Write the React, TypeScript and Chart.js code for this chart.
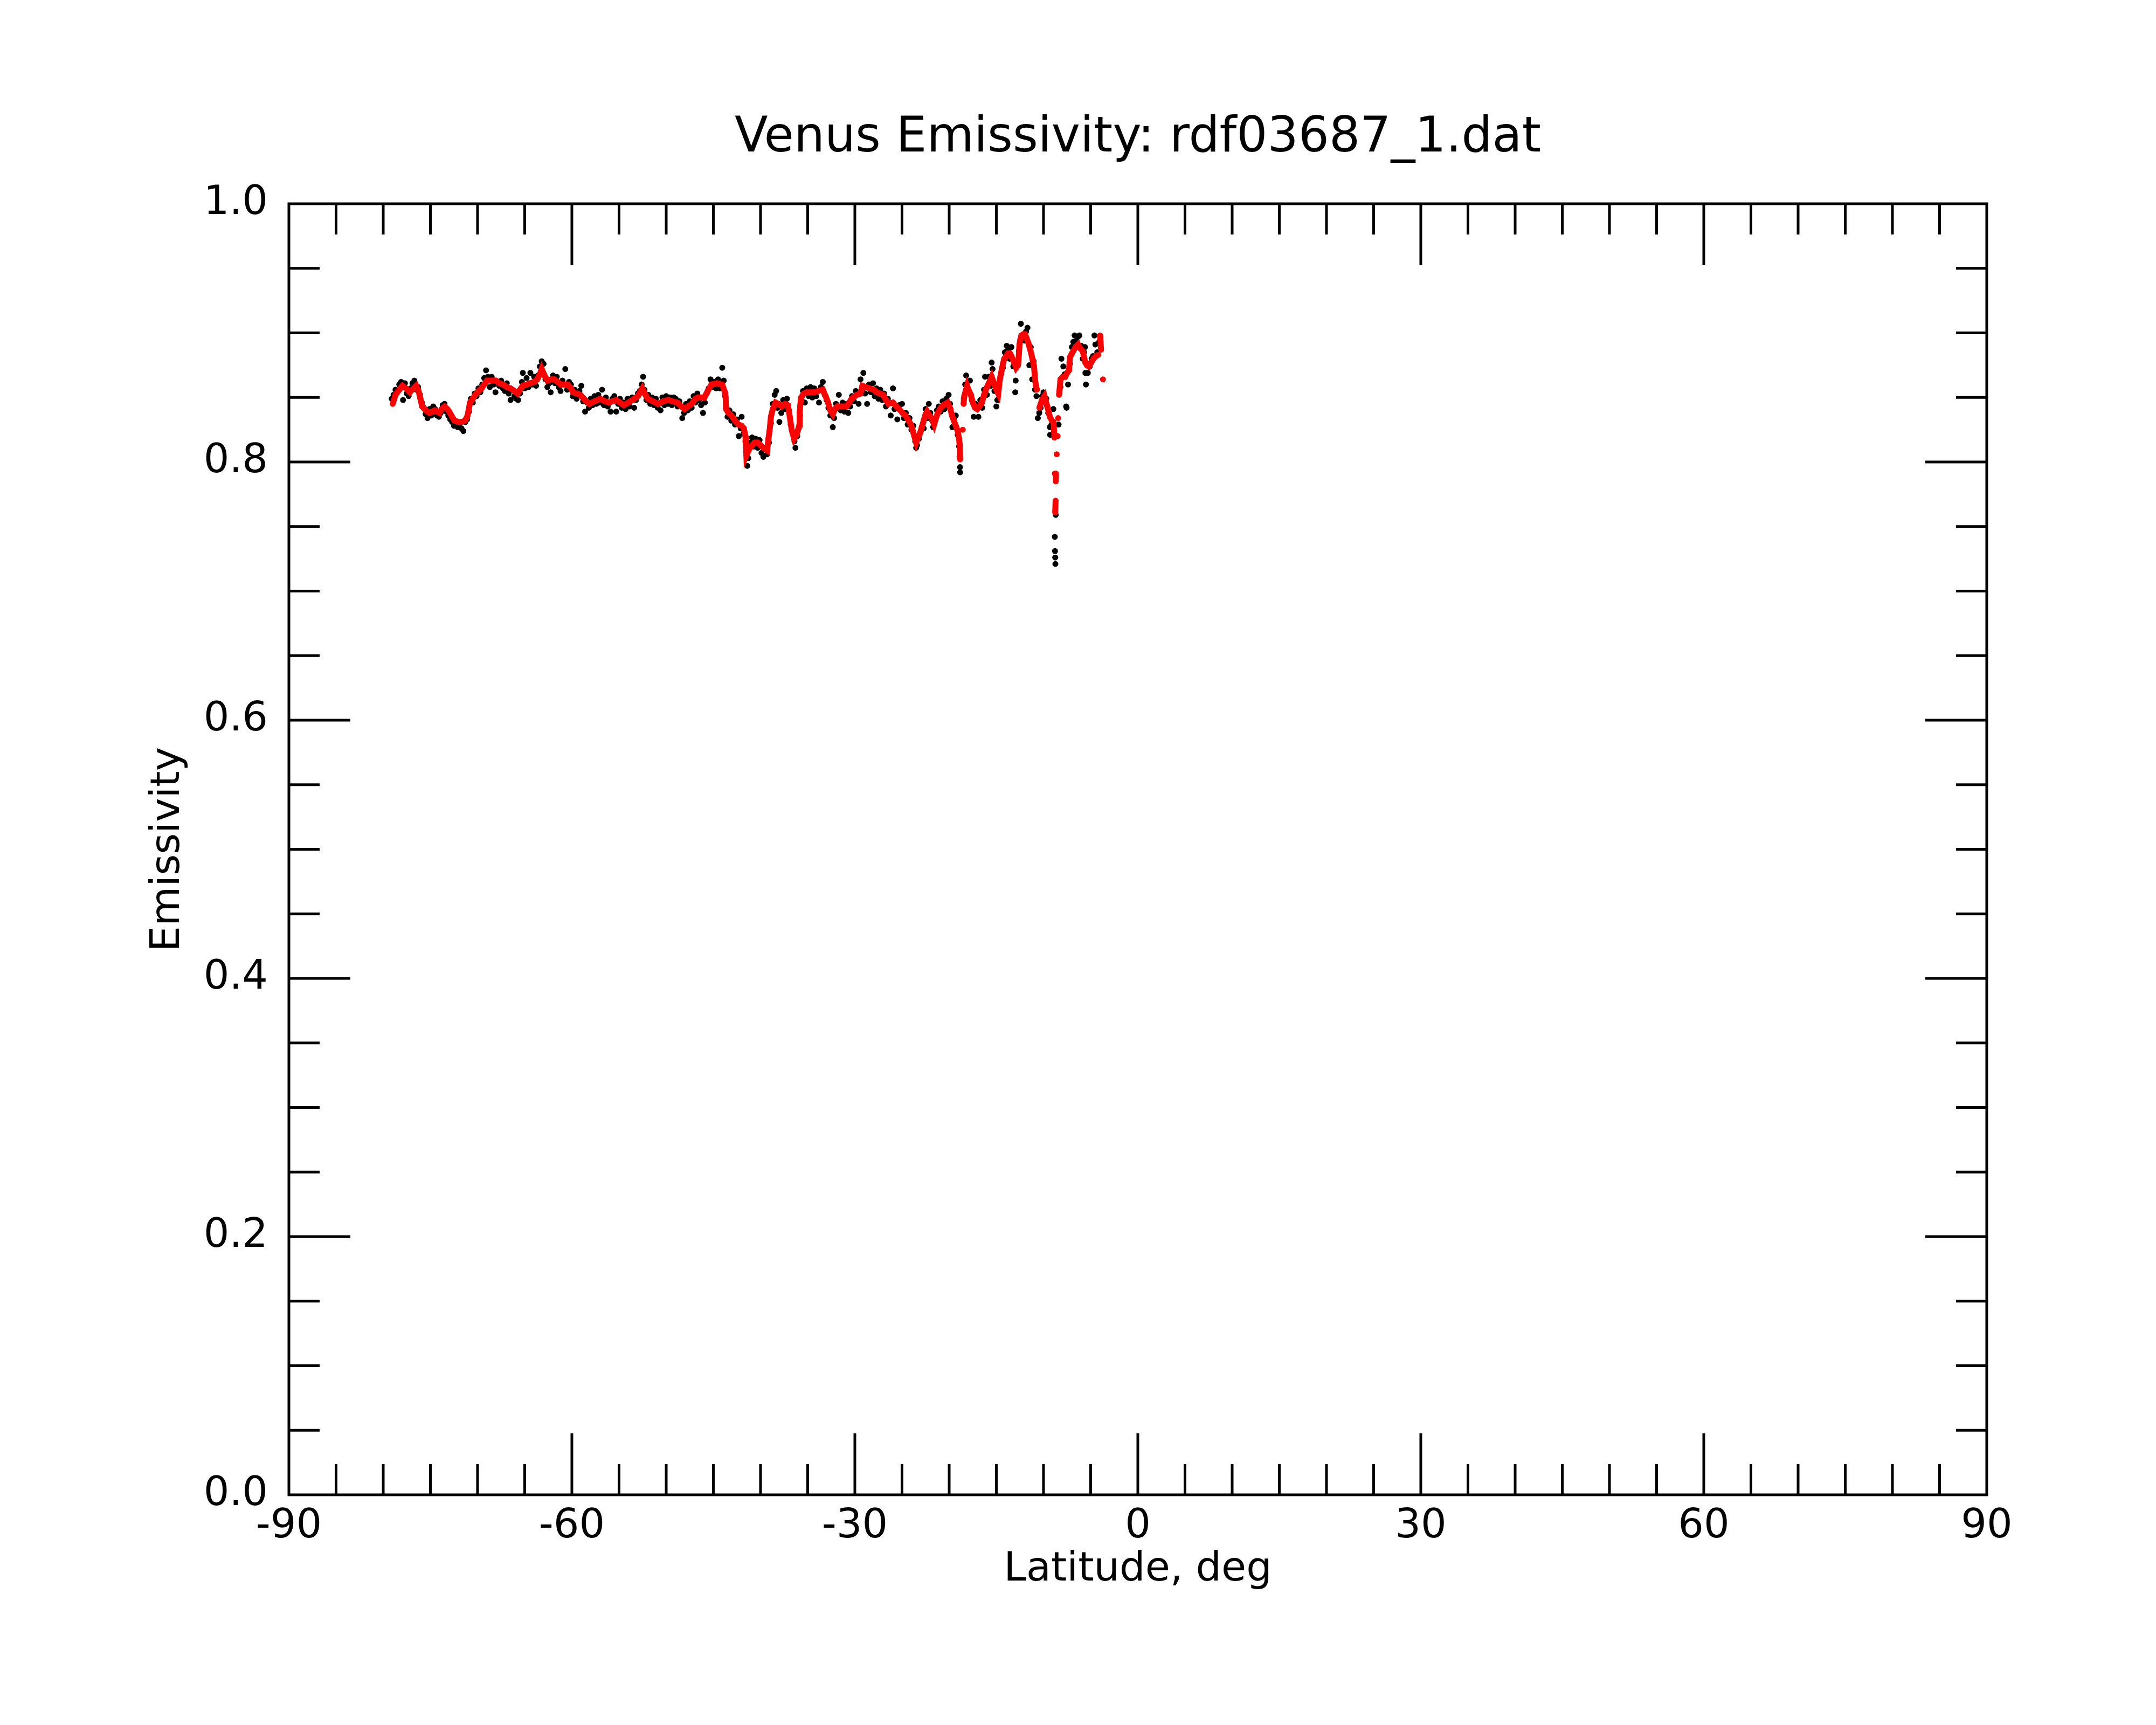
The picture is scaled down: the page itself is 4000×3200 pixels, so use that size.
import React, { useEffect, useRef } from 'react';
import { Chart, registerables } from 'chart.js';

Chart.register(...registerables);

// smoothed emissivity (red) vs latitude
const redPoints: [number, number][] = [
  [-79.0, 0.845], [-78.7, 0.852], [-78.3, 0.856], [-77.96, 0.859], [-77.6, 0.857], [-77.2, 0.854], [-76.8, 0.857], [-76.5, 0.859],
  [-76.25, 0.855], [-76.06, 0.849], [-75.87, 0.843], [-75.5, 0.84], [-75.1, 0.838], [-74.8, 0.839], [-74.53, 0.84], [-74.3, 0.839],
  [-74.06, 0.838], [-73.8, 0.841], [-73.49, 0.843], [-73.2, 0.841], [-73.0, 0.839], [-72.7, 0.835], [-72.44, 0.832], [-72.0, 0.831],
  [-71.68, 0.831], [-71.35, 0.832], [-71.1, 0.835], [-70.95, 0.84], [-70.8, 0.846], [-70.5, 0.849], [-70.25, 0.852], [-69.9, 0.855],
  [-69.58, 0.857], [-69.3, 0.86], [-69.0, 0.863], [-68.5, 0.863], [-68.06, 0.863], [-67.7, 0.861], [-67.3, 0.86], [-66.9, 0.858],
  [-66.5, 0.857], [-66.1, 0.855], [-65.77, 0.853], [-65.5, 0.856], [-65.2, 0.859], [-64.8, 0.86], [-64.44, 0.861], [-64.0, 0.862],
  [-63.67, 0.864], [-63.4, 0.868], [-63.2, 0.872], [-62.9, 0.867], [-62.6, 0.863], [-62.2, 0.864], [-61.87, 0.864], [-61.5, 0.862],
  [-61.2, 0.86], [-60.8, 0.86], [-60.44, 0.86], [-60.1, 0.857], [-59.87, 0.854], [-59.5, 0.853], [-59.1, 0.852], [-58.6, 0.848],
  [-58.16, 0.845], [-57.6, 0.847], [-57.0, 0.849], [-56.5, 0.847], [-56.06, 0.846], [-55.7, 0.847], [-55.3, 0.848], [-54.9, 0.846],
  [-54.5, 0.844], [-54.0, 0.846], [-53.58, 0.848], [-53.0, 0.851], [-52.53, 0.857], [-52.2, 0.852], [-51.96, 0.849], [-51.4, 0.847],
  [-50.9, 0.845], [-50.3, 0.847], [-49.77, 0.848], [-49.3, 0.847], [-48.8, 0.846], [-48.4, 0.843], [-48.06, 0.841], [-47.7, 0.843],
  [-47.3, 0.845], [-46.9, 0.849], [-46.6, 0.85], [-45.95, 0.85], [-45.6, 0.855], [-45.2, 0.86], [-44.63, 0.861], [-44.06, 0.86],
  [-43.77, 0.854], [-43.7, 0.85], [-43.65, 0.841], [-43.4, 0.838], [-43.1, 0.836], [-42.7, 0.832], [-42.34, 0.829], [-42.0, 0.828],
  [-41.77, 0.826], [-41.6, 0.82], [-41.55, 0.815], [-41.5, 0.805], [-41.2, 0.81], [-40.9, 0.813], [-40.6, 0.815], [-40.3, 0.815],
  [-40.0, 0.813], [-39.7, 0.811], [-39.3, 0.809], [-39.16, 0.818], [-39.0, 0.827], [-38.9, 0.835], [-38.7, 0.841], [-38.4, 0.846],
  [-38.1, 0.845], [-37.77, 0.843], [-37.4, 0.845], [-37.1, 0.844], [-36.9, 0.835], [-36.7, 0.825], [-36.44, 0.818], [-36.2, 0.821],
  [-36.06, 0.824], [-35.87, 0.829], [-35.85, 0.838], [-35.8, 0.843], [-35.7, 0.85], [-35.4, 0.853], [-35.1, 0.854], [-34.7, 0.854],
  [-34.34, 0.854], [-33.9, 0.855], [-33.4, 0.856], [-33.1, 0.851], [-32.84, 0.846], [-32.6, 0.84], [-32.34, 0.837], [-32.1, 0.841],
  [-31.87, 0.843], [-31.4, 0.843], [-30.9, 0.843], [-30.6, 0.846], [-30.34, 0.849], [-29.8, 0.852], [-29.4, 0.853], [-29.2, 0.859],
  [-28.8, 0.858], [-28.44, 0.857], [-28.0, 0.856], [-27.7, 0.854], [-27.35, 0.853], [-27.0, 0.852], [-26.7, 0.848], [-26.44, 0.845],
  [-25.96, 0.846], [-25.6, 0.843], [-25.3, 0.841], [-24.95, 0.838], [-24.63, 0.836], [-24.3, 0.832], [-24.06, 0.829], [-23.85, 0.824],
  [-23.7, 0.82], [-23.5, 0.815], [-23.3, 0.819], [-23.1, 0.822], [-22.9, 0.827], [-22.7, 0.832], [-22.5, 0.837], [-22.34, 0.839],
  [-22.1, 0.836], [-21.87, 0.834], [-21.6, 0.829], [-21.4, 0.834], [-21.2, 0.838], [-20.9, 0.842], [-20.63, 0.844], [-20.4, 0.845],
  [-20.16, 0.846], [-19.87, 0.841], [-19.7, 0.836], [-19.5, 0.832], [-19.3, 0.828], [-19.1, 0.824], [-18.95, 0.818], [-18.9, 0.814],
  [-18.87, 0.808], [-18.84, 0.802], [-18.56, 0.825], [-18.47, 0.845], [-18.4, 0.851], [-18.25, 0.855], [-18.1, 0.859], [-17.9, 0.855],
  [-17.7, 0.852], [-17.5, 0.846], [-17.25, 0.842], [-17.04, 0.841], [-16.8, 0.843], [-16.53, 0.846], [-16.3, 0.852], [-16.06, 0.857],
  [-15.8, 0.861], [-15.5, 0.866], [-15.35, 0.863], [-15.2, 0.86], [-15.0, 0.856], [-14.8, 0.853], [-14.63, 0.864], [-14.44, 0.871],
  [-14.3, 0.876], [-14.16, 0.88], [-13.95, 0.882], [-13.77, 0.884], [-13.55, 0.884], [-13.4, 0.882], [-13.25, 0.879], [-13.1, 0.877],
  [-12.9, 0.873], [-12.7, 0.875], [-12.6, 0.884], [-12.55, 0.891], [-12.45, 0.895], [-12.34, 0.898], [-12.15, 0.899], [-11.96, 0.899],
  [-11.8, 0.896], [-11.6, 0.892], [-11.45, 0.888], [-11.3, 0.884], [-11.15, 0.879], [-11.0, 0.874], [-10.9, 0.864], [-10.8, 0.859],
  [-10.7, 0.856], [-10.44, 0.842], [-10.3, 0.845], [-10.16, 0.848], [-9.9, 0.851], [-9.75, 0.847], [-9.6, 0.843], [-9.45, 0.839],
  [-9.33, 0.835], [-9.1, 0.832], [-8.94, 0.831], [-8.84, 0.819], [-8.8, 0.791], [-8.76, 0.761], [-8.72, 0.77], [-8.7, 0.785],
  [-8.68, 0.791], [-8.6, 0.806], [-8.5, 0.82], [-8.45, 0.834], [-8.35, 0.852], [-8.2, 0.864], [-7.95, 0.866], [-7.7, 0.866],
  [-7.5, 0.869], [-7.3, 0.871], [-7.2, 0.881], [-7.0, 0.884], [-6.84, 0.886], [-6.6, 0.889], [-6.34, 0.891], [-6.1, 0.888],
  [-5.84, 0.886], [-5.7, 0.881], [-5.56, 0.877], [-5.4, 0.875], [-5.2, 0.874], [-4.95, 0.877], [-4.7, 0.88], [-4.45, 0.882],
  [-4.2, 0.883], [-4.0, 0.898], [-3.9, 0.887], [-3.7, 0.864],
];

// raw emissivity samples (black)
const blackPoints: [number, number][] = [
  [-79.1, 0.849], [-78.9, 0.852], [-78.7, 0.856], [-78.5, 0.855], [-78.3, 0.86], [-78.1, 0.862], [-77.9, 0.848], [-77.7, 0.861],
  [-77.5, 0.853], [-77.3, 0.851], [-77.1, 0.857], [-76.9, 0.861], [-76.7, 0.863], [-76.5, 0.856], [-76.3, 0.858], [-76.1, 0.852],
  [-75.9, 0.846], [-75.7, 0.842], [-75.5, 0.837], [-75.3, 0.834], [-75.1, 0.841], [-74.9, 0.836], [-74.7, 0.843], [-74.5, 0.841],
  [-74.3, 0.836], [-74.1, 0.835], [-73.9, 0.838], [-73.7, 0.844], [-73.5, 0.845], [-73.3, 0.839], [-73.1, 0.836], [-72.9, 0.833],
  [-72.7, 0.831], [-72.5, 0.828], [-72.3, 0.83], [-72.1, 0.827], [-71.9, 0.829], [-71.7, 0.826], [-71.5, 0.824], [-71.3, 0.831],
  [-71.1, 0.833], [-70.9, 0.839], [-70.7, 0.849], [-70.5, 0.846], [-70.3, 0.853], [-70.1, 0.851], [-69.9, 0.857], [-69.7, 0.854],
  [-69.5, 0.86], [-69.3, 0.865], [-69.1, 0.871], [-68.9, 0.866], [-68.7, 0.858], [-68.5, 0.866], [-68.3, 0.86], [-68.1, 0.854],
  [-67.9, 0.862], [-67.7, 0.859], [-67.5, 0.863], [-67.3, 0.857], [-67.1, 0.855], [-66.9, 0.861], [-66.7, 0.853], [-66.5, 0.848],
  [-66.3, 0.856], [-66.1, 0.851], [-65.9, 0.849], [-65.7, 0.848], [-65.5, 0.853], [-65.3, 0.862], [-65.2, 0.869], [-65.0, 0.857],
  [-64.8, 0.865], [-64.6, 0.858], [-64.4, 0.869], [-64.2, 0.86], [-64.0, 0.866], [-63.8, 0.859], [-63.6, 0.867], [-63.4, 0.874],
  [-63.2, 0.878], [-63.0, 0.876], [-62.8, 0.864], [-62.6, 0.858], [-62.4, 0.861], [-62.25, 0.854], [-62.0, 0.867], [-61.8, 0.861],
  [-61.6, 0.866], [-61.4, 0.858], [-61.2, 0.855], [-61.0, 0.863], [-60.7, 0.872], [-60.5, 0.856], [-60.3, 0.862], [-60.1, 0.86],
  [-59.9, 0.851], [-59.7, 0.856], [-59.5, 0.849], [-59.2, 0.855], [-59.0, 0.859], [-58.8, 0.847], [-58.6, 0.839], [-58.4, 0.846],
  [-58.2, 0.842], [-58.0, 0.849], [-57.8, 0.844], [-57.6, 0.851], [-57.4, 0.845], [-57.2, 0.852], [-57.0, 0.846], [-56.8, 0.856],
  [-56.6, 0.844], [-56.4, 0.85], [-56.2, 0.843], [-55.9, 0.839], [-55.7, 0.849], [-55.5, 0.851], [-55.3, 0.839], [-55.1, 0.845],
  [-54.9, 0.849], [-54.7, 0.842], [-54.5, 0.846], [-54.3, 0.841], [-54.1, 0.849], [-53.9, 0.843], [-53.6, 0.85], [-53.4, 0.842],
  [-53.2, 0.848], [-53.0, 0.853], [-52.8, 0.855], [-52.6, 0.86], [-52.45, 0.866], [-52.3, 0.856], [-52.1, 0.848], [-51.9, 0.852],
  [-51.7, 0.845], [-51.5, 0.85], [-51.3, 0.844], [-51.1, 0.849], [-50.9, 0.842], [-50.6, 0.84], [-50.4, 0.85], [-50.2, 0.844],
  [-50.0, 0.851], [-49.8, 0.845], [-49.6, 0.85], [-49.4, 0.844], [-49.2, 0.85], [-49.0, 0.849], [-48.8, 0.843], [-48.6, 0.847],
  [-48.3, 0.834], [-48.1, 0.838], [-47.9, 0.845], [-47.7, 0.84], [-47.5, 0.847], [-47.3, 0.842], [-47.1, 0.851], [-46.9, 0.846],
  [-46.7, 0.853], [-46.5, 0.848], [-46.3, 0.844], [-46.1, 0.838], [-45.9, 0.846], [-45.7, 0.853], [-45.5, 0.857], [-45.3, 0.864],
  [-45.1, 0.858], [-44.9, 0.862], [-44.7, 0.857], [-44.5, 0.864], [-44.3, 0.857], [-44.06, 0.873], [-43.9, 0.863], [-43.75, 0.851],
  [-43.65, 0.843], [-43.5, 0.835], [-43.3, 0.84], [-43.1, 0.832], [-42.9, 0.837], [-42.7, 0.829], [-42.5, 0.833], [-42.3, 0.82],
  [-42.1, 0.826], [-42.0, 0.835], [-41.8, 0.822], [-41.6, 0.816], [-41.5, 0.808], [-41.4, 0.797], [-41.3, 0.803], [-41.1, 0.815],
  [-40.9, 0.819], [-40.7, 0.812], [-40.5, 0.818], [-40.3, 0.811], [-40.1, 0.817], [-39.9, 0.807], [-39.7, 0.804], [-39.5, 0.81],
  [-39.3, 0.806], [-39.1, 0.815], [-38.9, 0.83], [-38.7, 0.845], [-38.5, 0.852], [-38.34, 0.855], [-38.2, 0.842], [-38.0, 0.831],
  [-37.8, 0.838], [-37.6, 0.848], [-37.4, 0.841], [-37.2, 0.849], [-37.0, 0.84], [-36.8, 0.829], [-36.6, 0.822], [-36.4, 0.816],
  [-36.3, 0.811], [-36.1, 0.82], [-35.95, 0.826], [-35.8, 0.836], [-35.6, 0.847], [-35.5, 0.855], [-35.3, 0.846], [-35.1, 0.857],
  [-34.9, 0.851], [-34.7, 0.858], [-34.5, 0.85], [-34.3, 0.857], [-34.1, 0.851], [-33.8, 0.846], [-33.6, 0.858], [-33.4, 0.862],
  [-33.2, 0.852], [-33.0, 0.848], [-32.8, 0.842], [-32.6, 0.836], [-32.34, 0.827], [-32.2, 0.834], [-32.0, 0.845], [-31.7, 0.852],
  [-31.5, 0.84], [-31.3, 0.846], [-31.1, 0.839], [-30.9, 0.845], [-30.7, 0.838], [-30.5, 0.843], [-30.3, 0.851], [-30.1, 0.847],
  [-29.9, 0.855], [-29.6, 0.845], [-29.4, 0.864], [-29.2, 0.856], [-29.1, 0.869], [-28.9, 0.853], [-28.7, 0.845], [-28.5, 0.86],
  [-28.3, 0.854], [-28.07, 0.861], [-27.9, 0.851], [-27.7, 0.857], [-27.5, 0.849], [-27.3, 0.856], [-27.1, 0.848], [-26.9, 0.853],
  [-26.7, 0.843], [-26.5, 0.849], [-26.2, 0.836], [-25.96, 0.857], [-25.8, 0.841], [-25.5, 0.833], [-25.3, 0.844], [-25.0, 0.845],
  [-24.8, 0.834], [-24.6, 0.838], [-24.4, 0.829], [-24.2, 0.834], [-24.0, 0.825], [-23.8, 0.828], [-23.6, 0.816], [-23.5, 0.811],
  [-23.4, 0.813], [-23.2, 0.818], [-23.0, 0.824], [-22.7, 0.826], [-22.5, 0.841], [-22.3, 0.834], [-22.16, 0.845], [-22.0, 0.838],
  [-21.8, 0.832], [-21.7, 0.827], [-21.5, 0.832], [-21.3, 0.84], [-21.1, 0.843], [-20.9, 0.839], [-20.7, 0.847], [-20.5, 0.841],
  [-20.3, 0.849], [-20.06, 0.852], [-19.9, 0.845], [-19.66, 0.827], [-19.5, 0.833], [-19.3, 0.836], [-19.1, 0.821], [-18.95, 0.812],
  [-18.9, 0.804], [-18.85, 0.796], [-18.84, 0.792], [-18.45, 0.849], [-18.3, 0.86], [-18.2, 0.867], [-18.0, 0.856], [-17.8, 0.863],
  [-17.6, 0.848], [-17.4, 0.835], [-17.2, 0.845], [-16.9, 0.835], [-16.7, 0.848], [-16.5, 0.842], [-16.3, 0.856], [-16.2, 0.866],
  [-16.0, 0.852], [-15.8, 0.866], [-15.6, 0.859], [-15.5, 0.877], [-15.4, 0.872], [-15.2, 0.855], [-15.0, 0.843], [-14.9, 0.848],
  [-14.7, 0.86], [-14.5, 0.868], [-14.3, 0.873], [-14.1, 0.885], [-13.9, 0.89], [-13.75, 0.887], [-13.6, 0.88], [-13.4, 0.889],
  [-13.2, 0.874], [-13.0, 0.854], [-12.95, 0.863], [-12.8, 0.878], [-12.6, 0.886], [-12.4, 0.907], [-12.2, 0.897], [-12.0, 0.894],
  [-11.85, 0.901], [-11.7, 0.904], [-11.5, 0.875], [-11.35, 0.889], [-11.2, 0.864], [-11.05, 0.878], [-10.9, 0.856], [-10.75, 0.851],
  [-10.6, 0.834], [-10.45, 0.838], [-10.3, 0.842], [-10.15, 0.851], [-10.0, 0.854], [-9.85, 0.846], [-9.7, 0.849], [-9.5, 0.838],
  [-9.33, 0.827], [-9.3, 0.821], [-9.15, 0.829], [-8.95, 0.841], [-8.9, 0.823], [-8.8, 0.742], [-8.78, 0.731], [-8.76, 0.726],
  [-8.74, 0.721], [-8.7, 0.759], [-8.4, 0.829], [-8.2, 0.858], [-8.1, 0.88], [-7.9, 0.874], [-7.75, 0.868], [-7.6, 0.843],
  [-7.55, 0.842], [-7.4, 0.86], [-7.2, 0.876], [-7.0, 0.889], [-6.85, 0.893], [-6.7, 0.898], [-6.5, 0.894], [-6.35, 0.897],
  [-6.2, 0.898], [-6.0, 0.89], [-5.84, 0.88], [-5.7, 0.885], [-5.6, 0.889], [-5.56, 0.869], [-5.5, 0.86], [-5.3, 0.869],
  [-5.1, 0.874], [-4.9, 0.88], [-4.75, 0.882], [-4.6, 0.898], [-4.5, 0.891], [-4.3, 0.885], [-4.1, 0.893],
];

const latLabels = [-90, -60, -30, 0, 30, 60, 90];
const latTicks = [-85, -80, -75, -70, -65, -60, -55, -50, -45, -40, -35, -30, -25, -20, -15, -10, -5, 0,
  5, 10, 15, 20, 25, 30, 35, 40, 45, 50, 55, 60, 65, 70, 75, 80, 85];
const emisLabels = [0, 0.2, 0.4, 0.6, 0.8, 1.0];
const emisTicks = [0.05, 0.1, 0.15, 0.2, 0.25, 0.3, 0.35, 0.4, 0.45, 0.5, 0.55, 0.6, 0.65, 0.7, 0.75, 0.8, 0.85, 0.9, 0.95];

const FONT = 'DejaVu Sans';

// frame + inward ticks on all four sides
const frameTicks = {
  id: 'frameTicks',
  afterDatasetsDraw(chart: any) {
    const { ctx, chartArea: a, scales } = chart;
    const line = (x1: number, y1: number, x2: number, y2: number) => {
      ctx.beginPath();
      ctx.moveTo(x1, y1);
      ctx.lineTo(x2, y2);
      ctx.stroke();
    };
    ctx.save();
    ctx.strokeStyle = '#000';
    ctx.lineWidth = 5;
    for (const v of latTicks) {
      const px = scales.x.getPixelForValue(v);
      const len = latLabels.includes(v) ? 114 : 57;
      line(px, a.bottom, px, a.bottom - len);
      line(px, a.top, px, a.top + len);
    }
    for (const v of emisTicks) {
      const py = scales.y.getPixelForValue(v);
      const major = Math.abs(v * 5 - Math.round(v * 5)) < 1e-6;
      const len = major ? 114 : 57;
      line(a.left, py, a.left + len, py);
      line(a.right, py, a.right - len, py);
    }
    ctx.strokeRect(a.left, a.top, a.right - a.left, a.bottom - a.top);
    ctx.restore();
  },
};

const EmissivityChart: React.FC = () => {
  const canvasRef = useRef<HTMLCanvasElement | null>(null);

  useEffect(() => {
    if (!canvasRef.current) return;
    const ctx = canvasRef.current.getContext('2d');
    if (!ctx) return;

    const chart = new Chart(ctx, {
      type: 'scatter',
      data: {
        datasets: [
          {
            label: 'smoothed',
            data: redPoints.map(([x, y]) => ({ x, y })),
            showLine: true,
            borderColor: '#ff0000',
            borderWidth: 11,
            backgroundColor: '#ff0000',
            pointRadius: 5.5,
            pointBorderWidth: 0,
            tension: 0,
            segment: {
              borderColor: (c: any) =>
                Math.abs(c.p1.y - c.p0.y) > 30 || Math.abs(c.p1.x - c.p0.x) > 14 ? 'rgba(0,0,0,0)' : undefined,
            },
          },
          {
            label: 'raw',
            data: blackPoints.map(([x, y]) => ({ x, y })),
            backgroundColor: '#000000',
            borderWidth: 0,
            pointRadius: 5.5,
            pointBorderWidth: 0,
          },
        ],
      },
      options: {
        responsive: false,
        animation: false,
        devicePixelRatio: 1,
        events: [],
        layout: { padding: { left: 0, right: 314, top: 0, bottom: 0 } },
        plugins: {
          legend: { display: false },
          tooltip: { enabled: false },
          title: {
            display: true,
            fullSize: false,
            text: 'Venus Emissivity: rdf03687_1.dat',
            color: '#000',
            font: { family: FONT, size: 90, weight: 'normal' },
            padding: { top: 204, bottom: 66 },
          },
        },
        scales: {
          x: {
            type: 'linear',
            min: -90,
            max: 90,
            afterFit: (s: any) => { s.height = 427; },
            afterBuildTicks: (s: any) => { s.ticks = latLabels.map((v) => ({ value: v })); },
            grid: { display: false, drawTicks: false },
            border: { display: false },
            ticks: {
              color: '#000',
              padding: 15,
              maxRotation: 0,
              autoSkip: false,
              font: { family: FONT, size: 75 },
              callback: (v: any) => String(v),
            },
            title: {
              display: true,
              text: 'Latitude, deg',
              color: '#000',
              font: { family: FONT, size: 75 },
              padding: { top: 0, bottom: 242 },
            },
          },
          y: {
            type: 'linear',
            min: 0,
            max: 1,
            afterFit: (s: any) => { s.width = 536; },
            afterBuildTicks: (s: any) => { s.ticks = emisLabels.map((v) => ({ value: v })); },
            grid: { display: false, drawTicks: false },
            border: { display: false },
            ticks: {
              color: '#000',
              padding: 39,
              autoSkip: false,
              font: { family: FONT, size: 75 },
              callback: (v: any) => Number(v).toFixed(1),
            },
            title: {
              display: true,
              text: 'Emissivity',
              color: '#000',
              font: { family: FONT, size: 75 },
              padding: { top: 268, bottom: 0 },
            },
          },
        },
      },
      plugins: [frameTicks],
    });

    return () => {
      chart.destroy();
    };
  }, []);

  return <canvas ref={canvasRef} width={4000} height={3200} style={{ width: 4000, height: 3200, display: 'block' }} />;
};

export default function App() {
  return (
    <div style={{ position: 'absolute', left: 0, top: 0, width: 4000, height: 3200, background: '#fff' }}>
      <EmissivityChart />
    </div>
  );
}
